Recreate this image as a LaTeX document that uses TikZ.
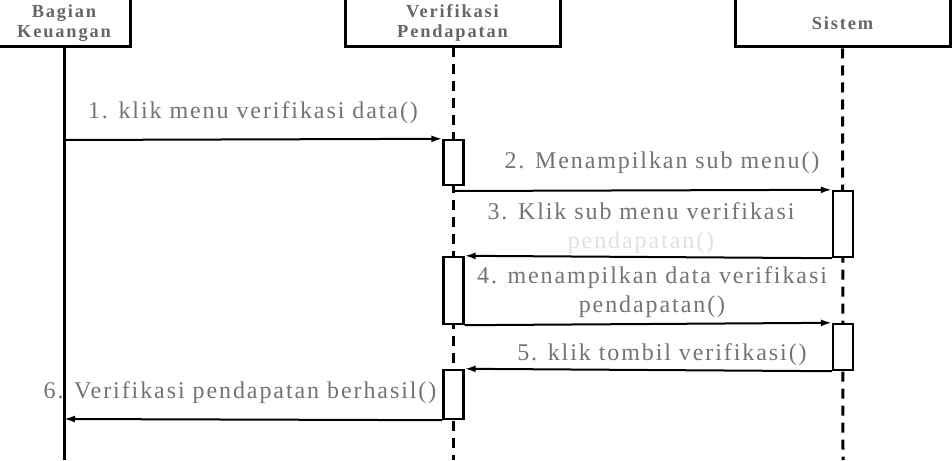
\documentclass[tikz,border=0pt]{standalone}
\usepackage{fontspec}
\setmainfont{Liberation Serif}
\newfontfamily\msgfont[LetterSpace=8]{Liberation Serif}
\newfontfamily\hdfont[LetterSpace=10]{Liberation Serif}
\usetikzlibrary{arrows.meta}
\tikzset{
  hdbox/.style={draw=black,line width=1.5pt,fill=white,minimum width=107.5pt,minimum height=24pt,inner sep=0pt,align=center,
    font=\hdfont\bfseries\fontsize{9.2}{10}\selectfont,text=black!60},
  act/.style={draw=black,line width=1.2pt,fill=white,minimum width=10pt,inner sep=0pt},
  solidlife/.style={line width=1.5pt},
  dashlife/.style={line width=1.5pt,dash pattern=on 5pt off 3.5pt},
  msg/.style={line width=1pt,-{Latex[length=5.5pt,width=3.5pt]}},
  lbl/.style={font=\msgfont\fontsize{12}{14.5}\selectfont,text=black!55,align=center,inner sep=0pt},
}
\begin{document}
\begin{tikzpicture}[x=0.5pt,y=-0.5pt]
\useasboundingbox (0,0) rectangle (952,460);
% lifeline ends
\coordinate (l1e) at (64,460);
\coordinate (l2e) at (453.5,460);
\coordinate (l3e) at (843,460);
% header boxes
\node[hdbox,minimum width=66pt] (b1) at (64,23) {Bagian\\Keuangan};
\node[hdbox] (b2) at (452.5,23) {Verifikasi\\Pendapatan};
\node[hdbox] (b3) at (842.5,23) {Sistem};
% lifelines
\draw[solidlife] (b1.south) -- (l1e);
\draw[dashlife] (453.5,47) -- (l2e);
\draw[dashlife] (b3.south) -- (l3e);
% activations
\node[act,minimum height=22.5pt] (v1) at (453.5,162.5) {};
\node[act,minimum height=33pt] (s1) at (843,224) {};
\node[act,minimum height=33.5pt] (v2) at (453.5,290.5) {};
\node[act,minimum height=23pt] (s2) at (843,347) {};
\node[act,minimum height=24.5pt] (v3) at (453.5,394.5) {};
% message endpoints
\coordinate (m1s) at (64,140);
\coordinate (m2s) at (453.5,191);
\coordinate (m6e) at (64,419);
% messages
\draw[msg] (m1s) -- (v1.north west);
\draw[msg] (m2s) -- (s1.north west);
\draw[msg] (s1.south west) -- (v2.north east);
\draw[msg] (v2.south east) -- (s2.north west);
\draw[msg] (s2.south west) -- (v3.north east);
\draw[msg] (v3.south west) -- (m6e);
% labels
\node[lbl] (t1) at (253,113) {1. klik menu verifikasi data()};
\node[lbl] (t2) at (662,163) {2. Menampilkan sub menu()};
\node[lbl] (t3) at (641,228) {3. Klik sub menu verifikasi\\{\color{black!12}pendapatan()}};
\node[lbl] (t4) at (652,292) {4. menampilkan data verifikasi\\pendapatan()};
\node[lbl] (t5) at (662,355) {5. klik tombil verifikasi()};
\node[lbl] (t6) at (240,393) {6. Verifikasi pendapatan berhasil()};
\end{tikzpicture}
\end{document}
